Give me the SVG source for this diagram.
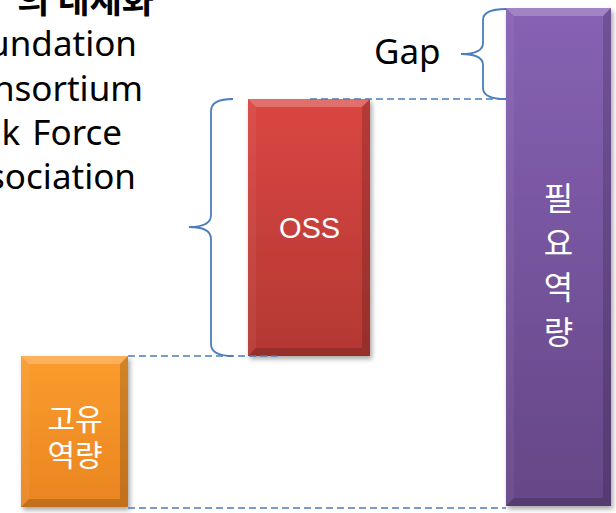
<svg xmlns="http://www.w3.org/2000/svg" width="616" height="513" viewBox="0 0 616 513">
<style>
.t{font-family:"Noto Sans","Open Sans",sans-serif;font-size:35px;fill:#000}
.k{font-family:"Noto Sans CJK KR","Noto Sans",sans-serif}
.w{fill:#fff}
.dash{fill:none;stroke:#4a7ebb;stroke-width:1.6;stroke-dasharray:7 4}
.brace{fill:none;stroke:#4a7ebb;stroke-width:1.8}
.hl{fill:#fff;opacity:0.22}
.hs{fill:#fff;opacity:0.05}
.dk{fill:#000;opacity:0.16}
</style>
<defs>
<linearGradient id="gO" x1="0" y1="0" x2="0" y2="1"><stop offset="0" stop-color="#fb9c2e"/><stop offset="1" stop-color="#e98520"/></linearGradient>
<linearGradient id="gR" x1="0" y1="0" x2="0" y2="1"><stop offset="0" stop-color="#da4642"/><stop offset="1" stop-color="#b43833"/></linearGradient>
<linearGradient id="gP" x1="0" y1="0" x2="0" y2="1"><stop offset="0" stop-color="#8762b4"/><stop offset="1" stop-color="#654686"/></linearGradient>
<filter id="sh" x="-10%" y="-5%" width="125%" height="115%"><feDropShadow dx="2" dy="3" stdDeviation="2.5" flood-color="#000" flood-opacity="0.35"/></filter>
</defs>

<g id="title-text">
<text class="t k" x="154" y="13" text-anchor="end" font-weight="bold" font-size="34">의 내재화</text>
<text class="t" x="137" y="56" text-anchor="end">undation</text>
<text class="t" x="143" y="100.5" text-anchor="end">nsortium</text>
<text class="t" x="122" y="145" text-anchor="end" word-spacing="3">k Force</text>
<text class="t" x="136" y="189" text-anchor="end">sociation</text>
</g>

<g id="node-orange">
<rect x="21" y="356" width="107" height="151" fill="url(#gO)" filter="url(#sh)"/>
<polygon class="hl" points="21,356 128,356 120,364 29,364"/>
<polygon class="hs" points="21,356 29,364 29,499 21,507"/>
<polygon class="dk" points="128,356 128,507 120,499 120,364"/>
<polygon class="dk" points="21,507 128,507 120,499 29,499"/>
<text class="k w" font-size="30" text-anchor="middle"><tspan x="75" y="430">고유</tspan><tspan x="75" y="466">역량</tspan></text>
</g>

<g id="node-oss">
<rect x="248" y="99" width="122" height="257" fill="url(#gR)" filter="url(#sh)"/>
<polygon class="hl" points="248,99 370,99 362,107 256,107"/>
<polygon class="hs" points="248,99 256,107 256,348 248,356"/>
<polygon class="dk" points="370,99 370,356 362,348 362,107"/>
<polygon class="dk" points="248,356 370,356 362,348 256,348"/>
<text x="309.5" y="238" text-anchor="middle" font-family="Liberation Sans,Arial,sans-serif" font-size="29" fill="#fff">OSS</text>
</g>

<g id="node-required">
<rect x="506" y="8" width="105" height="498" fill="url(#gP)" filter="url(#sh)"/>
<polygon class="hl" points="506,8 611,8 603,16 514,16"/>
<polygon class="hs" points="506,8 514,16 514,498 506,506"/>
<polygon class="dk" points="611,8 611,506 603,498 603,16"/>
<polygon class="dk" points="506,506 611,506 603,498 514,498"/>
<text class="k w" font-size="32" text-anchor="middle"><tspan x="558.5" y="210">필</tspan><tspan x="558.5" y="254.5">요</tspan><tspan x="558.5" y="299">역</tspan><tspan x="558.5" y="343.5">량</tspan></text>
</g>

<g id="gap-label">
<text class="t" x="374" y="64" font-size="27">Gap</text>
</g>

<g id="connectors">
<line class="dash" x1="128" y1="356" x2="277" y2="356"/>
<line class="dash" x1="310" y1="99" x2="506" y2="99"/>
<line class="dash" x1="128" y1="508" x2="506" y2="508"/>
<path class="brace" d="M233,99 Q211,99 211,111 L211,215 Q211,227 189,227 Q211,227 211,239 L211,344 Q211,356 233,356"/>
<path class="brace" d="M506,9 Q483,9 483,20 L483,43 Q483,54 461,54 Q483,54 483,65 L483,88 Q483,99 506,99"/>
</g>
</svg>
